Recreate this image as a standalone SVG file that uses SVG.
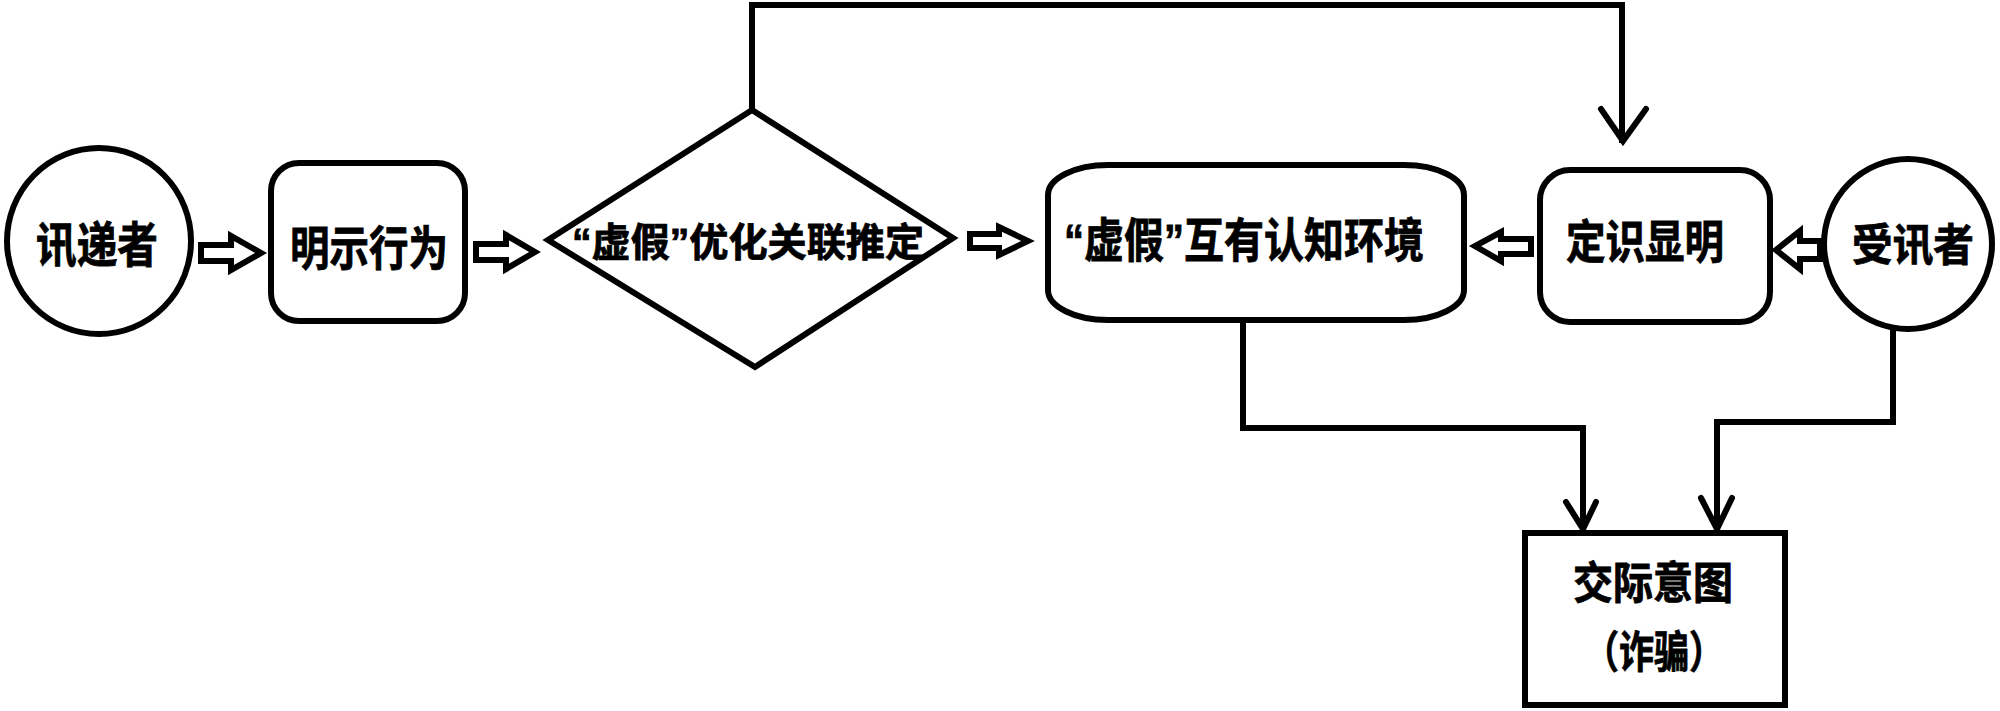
<svg xmlns="http://www.w3.org/2000/svg" width="2000" height="711" viewBox="0 0 2000 711">
<style>
.n{fill:#fff;stroke:#000;stroke-width:6}
.t{font-family:"Liberation Sans","Noto Sans CJK SC",sans-serif;font-weight:700;fill:#000;stroke:#000;stroke-width:0.8;text-anchor:middle;dominant-baseline:central}
.c{fill:none;stroke:#000;stroke-width:6;stroke-linejoin:miter;stroke-linecap:square}
.h{fill:none;stroke:#000;stroke-width:6;stroke-linejoin:miter;stroke-linecap:round}
.b{fill:#fff;stroke:#000;stroke-width:6;stroke-linejoin:miter}
</style>
<rect width="2000" height="711" fill="#fff"/>
<g id="connectors">
<path class="c" d="M752,110 V5 H1622 V140"/>
<path class="h" d="M1601,109 L1623,141 L1646,109"/>
<path class="c" d="M1243,322 V428 H1583 V528"/>
<path class="h" d="M1566,502 L1583,529 L1596,502"/>
<path class="c" d="M1893,330 V422 H1717 V528"/>
<path class="h" d="M1701,498 L1717,529 L1732,498"/>
<path class="b" d="M201,245 H231 V236 L261,253 L231,270 V261 H201 Z"/>
<path class="b" d="M476,244 H506 V235 L535,252 L506,269 V260 H476 Z"/>
<path class="b" d="M970,234 H999 V227 L1028,241 L999,255 V248 H970 Z"/>
<path class="b" d="M1531,239 H1501 V232 L1475,246 L1501,261 V254 H1531 Z"/>
<path class="b" d="M1820,241 H1800 V231 L1776,250 L1800,269 V259 H1820 Z"/>
</g>
<g id="sender">
<ellipse class="n" cx="99" cy="241" rx="92" ry="93"/>
<text class="t" x="97" y="245" font-size="48" textLength="122" lengthAdjust="spacingAndGlyphs">讯递者</text>
</g>
<g id="ostensive">
<rect class="n" x="271" y="163" width="194" height="158" rx="28"/>
<text class="t" x="369" y="248" font-size="47" textLength="158" lengthAdjust="spacingAndGlyphs">明示行为</text>
</g>
<g id="inference">
<polygon class="n" points="752,110 953,238 755,367 548,240"/>
<text class="t" x="748" y="242" font-size="39" textLength="352" lengthAdjust="spacingAndGlyphs">“虚假”优化关联推定</text>
</g>
<g id="environment">
<rect class="n" x="1048" y="165" width="416" height="155" rx="60" ry="30"/>
<text class="t" x="1244" y="240" font-size="47" textLength="360" lengthAdjust="spacingAndGlyphs">“虚假”互有认知环境</text>
</g>
<g id="manifest">
<rect class="n" x="1540" y="170" width="230" height="152" rx="30"/>
<text class="t" x="1645" y="242" font-size="46" textLength="158" lengthAdjust="spacingAndGlyphs">定识显明</text>
</g>
<g id="receiver">
<ellipse class="n" cx="1908" cy="244" rx="84" ry="85"/>
<text class="t" x="1913" y="245" font-size="44" textLength="122" lengthAdjust="spacingAndGlyphs">受讯者</text>
</g>
<g id="intention">
<rect class="n" x="1525" y="533" width="260" height="172"/>
<text class="t" x="1653" y="583" font-size="44" textLength="160" lengthAdjust="spacingAndGlyphs">交际意图</text>
<text class="t" x="1654" y="652" font-size="44" textLength="140" lengthAdjust="spacingAndGlyphs">（诈骗）</text>
</g>
</svg>
